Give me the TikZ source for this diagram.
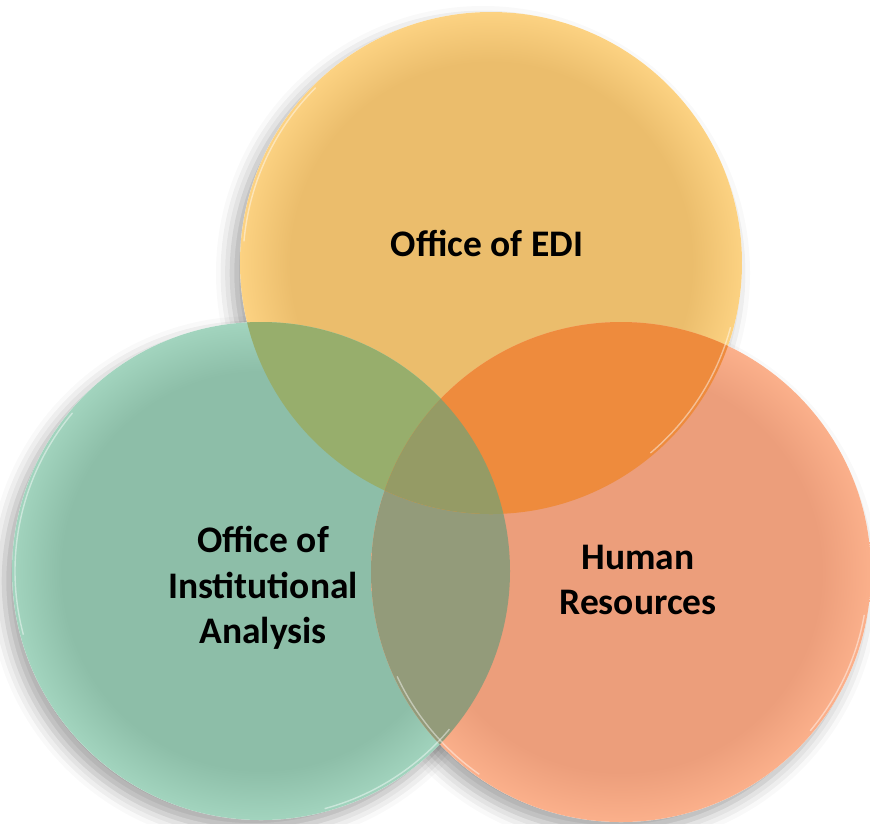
\documentclass[tikz,border=0pt]{standalone}
\usepackage{fontspec}
\setmainfont{Carlito}
\usepackage{tikz}
\usetikzlibrary{shadows.blur}

\definecolor{edifill}{HTML}{EBBD6C}
\definecolor{edirim}{HTML}{FCD282}
\definecolor{oiafill}{HTML}{8DBEA8}
\definecolor{oiarim}{HTML}{A2D4BE}
\definecolor{hrfill}{HTML}{EC9E7B}
\definecolor{hrrim}{HTML}{FBB08B}
\definecolor{edioia}{HTML}{97AE6C}
\definecolor{edihr}{HTML}{EE8B3D}
\definecolor{oiahr}{HTML}{939B7A}
\definecolor{allthree}{HTML}{959B65}

\pgfdeclareradialshading{ediglass}{\pgfpoint{0bp}{0bp}}{color(0bp)=(edifill); color(20bp)=(edifill); color(25bp)=(edirim); color(50bp)=(edirim)}
\pgfdeclareradialshading{oiaglass}{\pgfpoint{0bp}{0bp}}{color(0bp)=(oiafill); color(20bp)=(oiafill); color(25bp)=(oiarim); color(50bp)=(oiarim)}
\pgfdeclareradialshading{hrglass}{\pgfpoint{0bp}{0bp}}{color(0bp)=(hrfill); color(20bp)=(hrfill); color(25bp)=(hrrim); color(50bp)=(hrrim)}

\begin{document}
\begin{tikzpicture}[x=1pt,y=-1pt,
venntext/.style={font=\bfseries\fontsize{37.5}{45.5}\selectfont,align=center,text=black},
vennshadow/.style={fill=white,blur shadow={shadow xshift=-8pt,shadow yshift=-10pt,shadow blur radius=16pt,shadow opacity=35}},
rimhi/.style={draw=white,line width=1.4pt,opacity=.45}]

\useasboundingbox (0,0) rectangle (870,823);

\coordinate (cE) at (491,263);	% EDI
\coordinate (cA) at (261,571);	% analysis
\coordinate (cH) at (621,572);	% HR

% shadows
\fill[vennshadow] (cE) circle[radius=251pt];
\fill[vennshadow] (cA) circle[radius=249pt];
\fill[vennshadow] (cH) circle[radius=250pt];

% circles
\shade[shading=ediglass] (cE) circle[radius=251pt];
\shade[shading=oiaglass] (cA) circle[radius=249pt];
\shade[shading=hrglass] (cH) circle[radius=250pt];

% overlaps
\begin{scope}
\clip (cA) circle[radius=249pt];
\fill[oiahr] (cH) circle[radius=250pt];
\end{scope}
\begin{scope}
\clip (cE) circle[radius=251pt];
\fill[edioia] (cA) circle[radius=249pt];
\fill[edihr] (cH) circle[radius=250pt];
\clip (cA) circle[radius=249pt];
\fill[allthree] (cH) circle[radius=250pt];
\end{scope}

% highlights
\draw[rimhi] ([shift={(135:248pt)}]cE) arc[start angle=135,end angle=175,radius=248pt];
\draw[rimhi] ([shift={(-50:248pt)}]cE) arc[start angle=-50,end angle=-15,radius=248pt];
\draw[rimhi] ([shift={(140:246pt)}]cA) arc[start angle=140,end angle=195,radius=246pt];
\draw[rimhi] ([shift={(-75:246pt)}]cA) arc[start angle=-75,end angle=-40,radius=246pt];
\draw[rimhi] ([shift={(205:247pt)}]cH) arc[start angle=205,end angle=235,radius=247pt];
\draw[rimhi] ([shift={(-40:247pt)}]cH) arc[start angle=-40,end angle=-10,radius=247pt];

% labels
\node[venntext] (tE) at (487,243) {Office of EDI};
\node[venntext] (tA) at (263,588) {Office of\\Institutional\\Analysis};
\node[venntext] (tH) at (638,580) {Human\\Resources};

\end{tikzpicture}
\end{document}
